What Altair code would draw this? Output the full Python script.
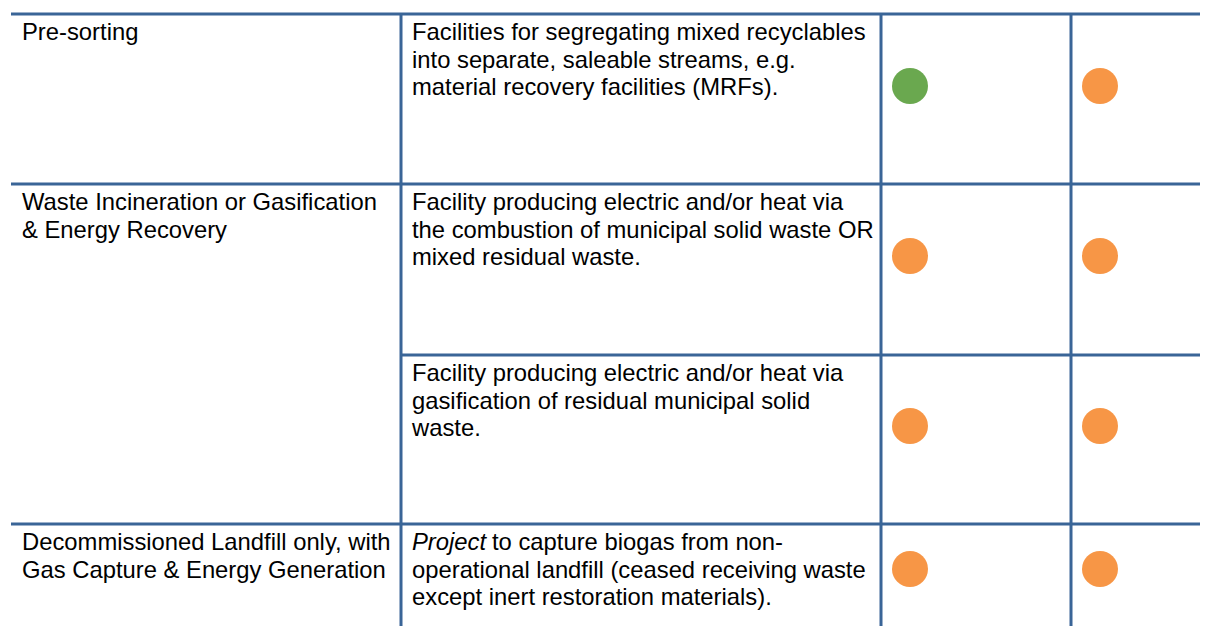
import altair as alt
import pandas as pd

# ---------------- content ----------------
categories = [
    "Pre-sorting",
    "Waste Incineration or Gasification\n& Energy Recovery",
    "Decommissioned Landfill only, with\nGas Capture & Energy Generation",
]
category_first_subrow = [0, 1, 3]

descriptions = [
    "Facilities for segregating mixed recyclables\ninto separate, saleable streams, e.g.\nmaterial recovery facilities (MRFs).",
    "Facility producing electric and/or heat via\nthe combustion of municipal solid waste OR\nmixed residual waste.",
    "Facility producing electric and/or heat via\ngasification of residual municipal solid\nwaste.",
    "Project to capture biogas from non-\noperational landfill (ceased receiving waste\nexcept inert restoration materials).",
]
italic_lead = ["", "", "", "Project"]

rating_col1 = ["green", "orange", "orange", "orange"]
rating_col2 = ["orange", "orange", "orange", "orange"]

# ---------------- layout (pixel grid of the page) ----------------
OFF = 8
W, H = 1192, 618
row_tops = [14, 184, 355, 524]
col_edges = [11, 401, 881, 1071, 1208]
page_bottom = 640
text_pad = 11
base_dy = 26
line_h = 27.5
dot_dy = [72, 72, 71, 45]
italic_gap = 80  # width of italic lead word incl. space

FONT = "Liberation Sans"
FS = 23.8
LINE = "#3A6597"
COLORS = {"green": "#6AA84F", "orange": "#F79646"}

# ---------------- build tables ----------------
text_rows = []
for cat, r in zip(categories, category_first_subrow):
    for j, line in enumerate(cat.split("\n")):
        text_rows.append({"x": col_edges[0] + text_pad,
                          "y": row_tops[r] + base_dy + j * line_h,
                          "t": line, "italic": False})
for i, desc in enumerate(descriptions):
    for j, line in enumerate(desc.split("\n")):
        x = col_edges[1] + text_pad
        if j == 0 and italic_lead[i]:
            text_rows.append({"x": x, "y": row_tops[i] + base_dy,
                              "t": italic_lead[i], "italic": True})
            line = line[len(italic_lead[i]):].lstrip()
            x = x + italic_gap
        text_rows.append({"x": x, "y": row_tops[i] + base_dy + j * line_h,
                          "t": line, "italic": False})
text_df = pd.DataFrame(text_rows)

dot_rows = []
for i in range(len(descriptions)):
    for c, ratings in ((2, rating_col1), (3, rating_col2)):
        dot_rows.append({"x": col_edges[c] + 29,
                         "y": row_tops[i] + dot_dy[i],
                         "rating": ratings[i]})
dot_df = pd.DataFrame(dot_rows)

h_lines = pd.DataFrame([
    {"x1": col_edges[0], "x2": col_edges[-1], "y": row_tops[0]},
    {"x1": col_edges[0], "x2": col_edges[-1], "y": row_tops[1]},
    {"x1": col_edges[1], "x2": col_edges[-1], "y": row_tops[2]},
    {"x1": col_edges[0], "x2": col_edges[-1], "y": row_tops[3]},
])
v_lines = pd.DataFrame([
    {"x": col_edges[c], "y1": row_tops[0], "y2": page_bottom} for c in (1, 2, 3)
])

xs = alt.Scale(domain=[OFF, OFF + W])
ys = alt.Scale(domain=[OFF, OFF + H], reverse=True)
noax = None

hl = alt.Chart(h_lines).mark_rule(color=LINE, strokeWidth=3, clip=True).encode(
    x=alt.X("x1:Q", scale=xs, axis=noax), x2="x2:Q",
    y=alt.Y("y:Q", scale=ys, axis=noax))
vl = alt.Chart(v_lines).mark_rule(color=LINE, strokeWidth=3, clip=True).encode(
    x=alt.X("x:Q", scale=xs, axis=noax),
    y=alt.Y("y1:Q", scale=ys, axis=noax), y2="y2:Q")

txt_reg = alt.Chart(text_df).transform_filter("!datum.italic").mark_text(
    align="left", baseline="alphabetic", font=FONT, fontSize=FS, color="#000000"
).encode(x=alt.X("x:Q", scale=xs, axis=noax), y=alt.Y("y:Q", scale=ys, axis=noax), text="t:N")
txt_it = alt.Chart(text_df).transform_filter("datum.italic").mark_text(
    align="left", baseline="alphabetic", font=FONT, fontSize=FS, fontStyle="italic",
    color="#000000"
).encode(x=alt.X("x:Q", scale=xs, axis=noax), y=alt.Y("y:Q", scale=ys, axis=noax), text="t:N")

dots = alt.Chart(dot_df).mark_circle(size=1296, opacity=1).encode(
    x=alt.X("x:Q", scale=xs, axis=noax), y=alt.Y("y:Q", scale=ys, axis=noax),
    color=alt.Color("rating:N", scale=alt.Scale(domain=list(COLORS.keys()),
                                                range=list(COLORS.values())), legend=None))

chart = alt.layer(hl, vl, dots, txt_reg, txt_it).properties(
    width=W, height=H, padding=0, background="white"
).configure_view(stroke=None)

chart.save("out.html", embed_options={"renderer": "svg", "actions": False})
